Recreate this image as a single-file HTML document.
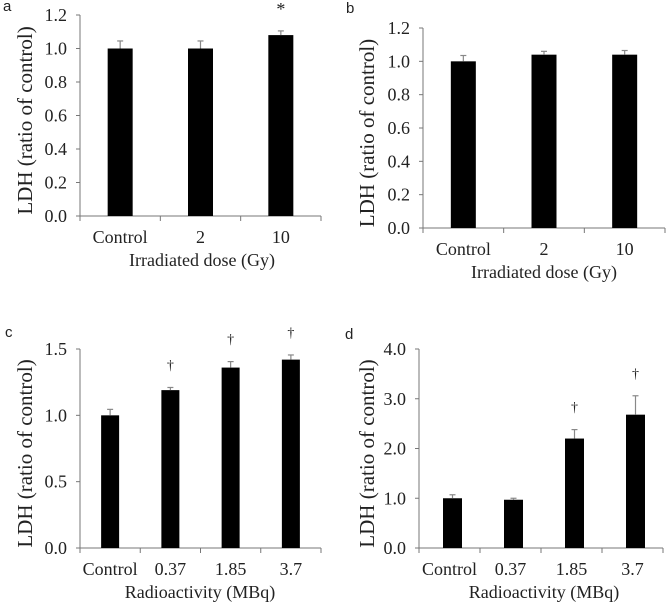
<!DOCTYPE html>
<html><head><meta charset="utf-8"><style>
body{margin:0;background:#fff;width:666px;height:604px;overflow:hidden}
svg text{font-family:"Liberation Serif",serif;fill:#222}
</style></head><body>
<svg id="fig" width="666" height="604"></svg>
<script>
const catsA=["Control","2","10"];
const valsA=[1.0,1.0,1.08];
const errsA=[0.045,0.045,0.025];
const marksA=["","","*"];
const valsB=[1.0,1.04,1.04];
const errsB=[0.035,0.02,0.025];
const marksB=["","",""];
const catsC=["Control","0.37","1.85","3.7"];
const valsC=[1.0,1.19,1.36,1.42];
const errsC=[0.045,0.02,0.045,0.035];
const marksC=["","†","†","†"];
const valsD=[1.0,0.97,2.2,2.68];
const errsD=[0.07,0.03,0.18,0.38];
const marksD=["","","†","†"];
const ticksAB=[0,0.2,0.4,0.6,0.8,1.0,1.2];
const ticksC=[0,0.5,1.0,1.5];
const ticksD=[0,1,2,3,4];

const NS="http://www.w3.org/2000/svg";
const svg=document.getElementById('fig');
function mk(tag,attrs,parent){const e=document.createElementNS(NS,tag);for(const k in attrs)e.setAttribute(k,attrs[k]);(parent||svg).appendChild(e);return e;}

function panel(p){
  const g=mk('g',{});
  
  
  const ymax=p.ticks[p.ticks.length-1];
  const Y=v=>p.y0-(v/ymax)*(p.y0-p.yt);
  const n=p.cats.length, slot=(p.x1-p.x0)/n;
  const X=i=>p.x0+slot*(i+0.5)+p.off;
  const lt=mk('text',{x:p.lx,y:p.ly,'font-size':15,style:'font-family:"Liberation Sans",sans-serif'},g);lt.textContent=p.letter;
  
  
  const ax=mk('line',{x1:p.x0,y1:p.yt,x2:p.x0,y2:p.y0,stroke:'#777','stroke-width':1},g);
  
  
  const xx=mk('line',{x1:p.x0,y1:p.y0,x2:p.x1,y2:p.y0,stroke:'#777','stroke-width':1},g);
  
  
  p.ticks.forEach(t=>{
    mk('line',{x1:p.x0-4,y1:Y(t),x2:p.x0,y2:Y(t),stroke:'#777'},g);
    const tt=mk('text',{x:p.x0-13,y:Y(t)+6,'font-size':18,'text-anchor':'end'},g);
    tt.textContent=t.toFixed(1);
    
    
  });
  for(let i=0;i<=n;i++) mk('line',{x1:p.x0+slot*i,y1:p.y0,x2:p.x0+slot*i,y2:p.y0+5,stroke:'#777'},g);
  p.cats.forEach((c,i)=>{
    const cx=X(i);
    const b=mk('rect',{x:cx-p.bw/2,y:Y(p.vals[i]),width:p.bw,height:p.y0-Y(p.vals[i]),fill:'#000'},g);
    
    
    const top=Y(p.vals[i]+p.errs[i]);
    mk('line',{x1:cx,y1:Y(p.vals[i]),x2:cx,y2:top,stroke:'#888','stroke-width':1.2},g);
    mk('line',{x1:cx-3,y1:top,x2:cx+3,y2:top,stroke:'#888','stroke-width':1.2},g);
    if(p.marks[i]){const m=mk('text',{x:cx,y:top-(p.marks[i]=='*'?16:18),'font-size':p.marks[i]=='*'?18:14,'text-anchor':'middle'},g);m.textContent=p.marks[i];
      
      }
    const cl=mk('text',{x:p.x0+slot*(i+0.5),y:p.y0+27,'font-size':18,'text-anchor':'middle'},g);cl.textContent=c;
    
    
  });
  const xt=mk('text',{x:p.xtx,y:p.y0+50,'font-size':18,'text-anchor':'middle'},g);xt.textContent=p.xtitle;
  
  
  const cy=(p.y0+p.yt)/2+5;
  const yt=mk('text',{x:p.ytx,y:cy,'font-size':21,'text-anchor':'middle',transform:`rotate(-90 ${p.ytx} ${cy})`},g);yt.textContent='LDH (ratio of control)';
  
  
}
panel({letter:'a',lx:3,ly:11,x0:80,x1:321,y0:216,yt:15,ticks:ticksAB,cats:catsA,vals:valsA,errs:errsA,marks:marksA,bw:25,off:0,xtitle:'Irradiated dose (Gy)',xtx:202,ytx:32});
panel({letter:'b',lx:346,ly:13,x0:423,x1:665,y0:228,yt:28,ticks:ticksAB,cats:catsA,vals:valsB,errs:errsB,marks:marksB,bw:25,off:0,xtitle:'Irradiated dose (Gy)',xtx:544,ytx:374});
panel({letter:'c',lx:5,ly:337,x0:80,x1:321,y0:548,yt:349,ticks:ticksC,cats:catsC,vals:valsC,errs:errsC,marks:marksC,bw:18,off:0,xtitle:'Radioactivity (MBq)',xtx:200,ytx:32});
panel({letter:'d',lx:345,ly:339,x0:419,x1:663,y0:548,yt:349,ticks:ticksD,cats:catsC,vals:valsD,errs:errsD,marks:marksD,bw:19,off:3,xtitle:'Radioactivity (MBq)',xtx:544,ytx:374});
</script>
</body></html>
